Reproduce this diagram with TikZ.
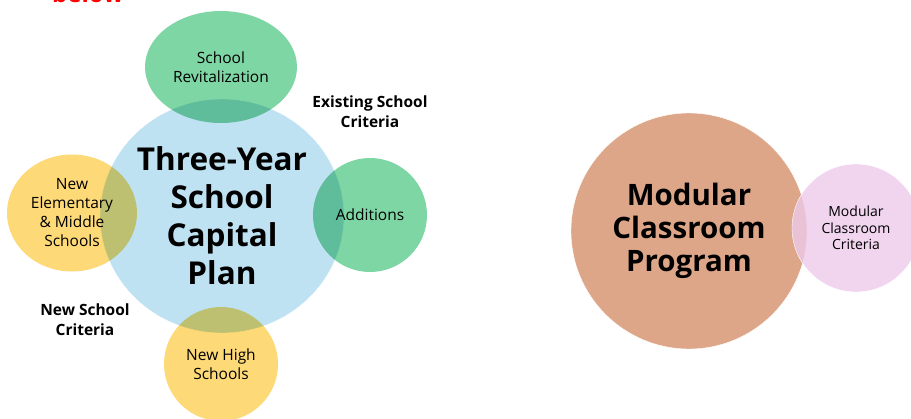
\documentclass[tikz,border=0pt]{standalone}
\usepackage{fontspec}
\setmainfont{Open Sans}
\usetikzlibrary{shapes,positioning}
\definecolor[named]{Sky}{RGB}{191,226,242}
\definecolor[named]{Mint}{RGB}{127,214,165}
\definecolor[named]{Sun}{RGB}{253,217,120}
\definecolor[named]{Clay}{RGB}{221,166,136}
\definecolor[named]{Lilac}{RGB}{238,202,234}
\tikzset{hub/.style ={
        ellipse,
        fill=Sky,
        draw=white,
        thin,
        inner sep=0,
        align=center,
        font=\bfseries\fontsize{31.5}{38}\selectfont
    },
    mint/.style ={
        ellipse,
        fill=Mint,
        draw=white,
        thin,
        inner sep=0,
        align=center,
        blend mode=multiply
    },
    sun/.style ={
        ellipse,
        fill=Sun,
        draw=white,
        thin,
        inner sep=0,
        align=center,
        blend mode=multiply
    },
    txt/.style ={
        align=center,
        font=\bfseries\fontsize{15.5}{20}\selectfont
    }}

\begin{document}
\begin{tikzpicture}
    [
    x=1pt, y=-1pt,
    small/.style={
        font=\fontsize{15.5}{19}\selectfont
    }
    ]
    \useasboundingbox (0,0) rectangle (911,418);
    \clip (0,0) rectangle (911,418);
    % heading cut at the top
    \node (head) [anchor=base, inner sep=0, text=red, font=\bfseries\fontsize{24}{24}\selectfont] at (88,2.5) {below};

    % three-year plan
    \node (plan)[hub, minimum width=244, minimum height=234] at (222,216)
        {Three-Year\\School\\Capital\\Plan};
    \node (revit)[mint, small, minimum width=152, minimum height=112] at (221,67)
        {School\\Revitalization};
    \node (add)[mint, small, minimum width=114, minimum height=114] at (370,215)
        {Additions};
    \node (elem)[sun, small, minimum width=130, minimum height=117] at (72,213)
        {New\\Elementary\\\& Middle\\Schools};
    \node (high)[sun, small, minimum width=114, minimum height=114] at (221,364)
        {New High\\Schools};
    \node (exist)[txt] at (370,112) {Existing School\\Criteria};
    \node (newcrit)[txt] at (85,320) {New School\\Criteria};

    % modular program
    \node (mod)[circle, fill=Clay, draw=white, thin, inner sep=0, align=center,
        minimum size=236, font=\bfseries\fontsize{29.5}{33}\selectfont] at (689,231)
        {Modular\\Classroom\\Program};
    \node (modcrit)[circle, fill=Lilac, draw=white, thin, inner sep=0, align=center,
        minimum size=128, fill opacity=0.8, text opacity=1,
        font=\fontsize{14}{16.5}\selectfont] at (856,228)
        {Modular\\Classroom\\Criteria};
\end{tikzpicture}
\end{document}
